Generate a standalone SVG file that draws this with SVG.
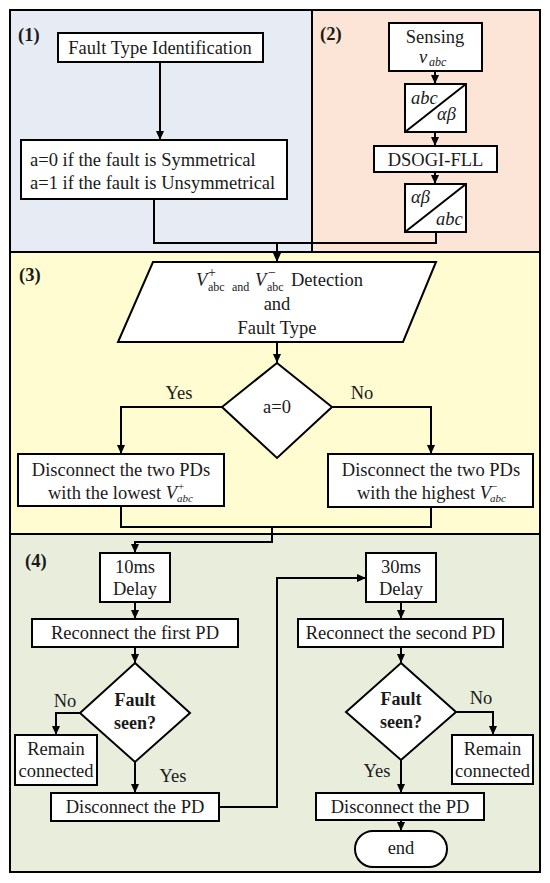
<svg xmlns="http://www.w3.org/2000/svg" width="550" height="883" viewBox="0 0 550 883">
<defs>
<style>
.box{fill:#fff;stroke:#000;stroke-width:2}
.pan{stroke:#000;stroke-width:2}
.ln{fill:none;stroke:#000;stroke-width:2}
.t{font-family:"Liberation Serif","Times New Roman",serif;font-size:18.5px;fill:#1a1a1a}
.c{text-anchor:middle}
.b{font-weight:bold}
.i{font-style:italic}
.s{font-size:12px}
.lbl{font-family:"Liberation Serif","Times New Roman",serif;font-size:18.5px;font-weight:bold;fill:#1a1a1a}
</style>
<marker id="ah" markerUnits="userSpaceOnUse" markerWidth="9" markerHeight="8" refX="9" refY="4" orient="auto">
<path d="M0,0 L9,4 L0,8 z" fill="#000"/>
</marker>
</defs>
<rect width="550" height="883" fill="#fff"/>
<g id="panels">
<rect class="pan" x="10" y="10" width="302" height="242" fill="#e7ecf4"/>
<rect class="pan" x="312" y="10" width="228" height="242" fill="#fce5d6"/>
<rect class="pan" x="10" y="252" width="530" height="282" fill="#fffcd1"/>
<rect class="pan" x="10" y="534" width="530" height="338" fill="#e9eedc"/>
<text class="lbl" x="18" y="41">(1)</text>
<text class="lbl" x="320" y="40">(2)</text>
<text class="lbl" x="19" y="281">(3)</text>
<text class="lbl" x="25" y="567">(4)</text>
</g>
<g id="connectors">
<path class="ln" d="M160,62 V140" marker-end="url(#ah)"/>
<path class="ln" d="M154,199 V243 H436 V232"/>
<path class="ln" d="M277,243 V262" marker-end="url(#ah)"/>
<path class="ln" d="M435,71 V84" marker-end="url(#ah)"/>
<path class="ln" d="M435,132 V146" marker-end="url(#ah)"/>
<path class="ln" d="M435,172 V184" marker-end="url(#ah)"/>
<path class="ln" d="M277,342 V363" marker-end="url(#ah)"/>
<path class="ln" d="M222,407 H121 V454" marker-end="url(#ah)"/>
<path class="ln" d="M332,407 H431 V454" marker-end="url(#ah)"/>
<path class="ln" d="M121,506 V527 H431 V506"/>
<path class="ln" d="M272,527 V542 H135 V553" marker-end="url(#ah)"/>
<path class="ln" d="M135,602 V619" marker-end="url(#ah)"/>
<path class="ln" d="M135,647 V663" marker-end="url(#ah)"/>
<path class="ln" d="M80,713 H56 V735" marker-end="url(#ah)"/>
<path class="ln" d="M135,762 V793" marker-end="url(#ah)"/>
<path class="ln" d="M219,807 H277 V578 H366" marker-end="url(#ah)"/>
<path class="ln" d="M401,602 V619" marker-end="url(#ah)"/>
<path class="ln" d="M401,647 V663" marker-end="url(#ah)"/>
<path class="ln" d="M456,712 H493 V735" marker-end="url(#ah)"/>
<path class="ln" d="M401,760 V793" marker-end="url(#ah)"/>
<path class="ln" d="M401,820 V831" marker-end="url(#ah)"/>
<text class="t c" x="179" y="399">Yes</text>
<text class="t c" x="362" y="399">No</text>
<text class="t c" x="65" y="707">No</text>
<text class="t c" x="173" y="782">Yes</text>
<text class="t c" x="481" y="704">No</text>
<text class="t c" x="377" y="777">Yes</text>
</g>
<g id="fault-type-id">
<rect class="box" x="58" y="33" width="205" height="29"/>
<text class="t c" x="160" y="54">Fault Type Identification</text>
</g>
<g id="a-def">
<rect class="box" x="21" y="140" width="266" height="59"/>
<text class="t" x="30" y="166">a=0 if the fault is Symmetrical</text>
<text class="t" x="30" y="189">a=1 if the fault is Unsymmetrical</text>
</g>
<g id="sensing">
<rect class="box" x="389" y="23" width="93" height="48"/>
<text class="t c" x="435" y="43">Sensing</text>
<text class="t i" x="419" y="63">v</text>
<text class="t i s" x="429" y="66">abc</text>
</g>
<g id="abc-ab">
<rect class="box" x="405" y="84" width="61" height="48"/>
<path class="ln" d="M405,132 L466,84"/>
<text class="t i" x="411" y="104">abc</text>
<text class="t i" x="437" y="120">αβ</text>
</g>
<g id="dsogi">
<rect class="box" x="374" y="146" width="123" height="26"/>
<text class="t c" x="435.5" y="166">DSOGI-FLL</text>
</g>
<g id="ab-abc">
<rect class="box" x="405" y="184" width="61" height="48"/>
<path class="ln" d="M405,232 L466,184"/>
<text class="t i" x="411" y="203">αβ</text>
<text class="t i" x="436" y="225">abc</text>
</g>
<g id="detection">
<path class="box" d="M153,262 H436 L403,342 H118 Z"/>
<text class="t i" x="196" y="286">V</text>
<text class="t" x="208" y="277" style="font-size:14px">+</text>
<text class="t s" x="208" y="291">abc</text>
<text class="t s" x="232" y="291">and</text>
<text class="t i" x="255" y="286">V</text>
<text class="t" x="268" y="277" style="font-size:14px">−</text>
<text class="t s" x="267" y="291">abc</text>
<text class="t" x="291" y="286">Detection</text>
<text class="t c" x="277" y="310">and</text>
<text class="t c" x="277" y="334">Fault Type</text>
</g>
<g id="decision-a0">
<path class="box" d="M277,363 L332,407 L277,458 L222,407 Z"/>
<text class="t c" x="277" y="413">a=0</text>
</g>
<g id="disc-lowest">
<rect class="box" x="18" y="454" width="206" height="52"/>
<text class="t c" x="121" y="476">Disconnect the two PDs</text>
<text class="t" x="48" y="499">with the lowest <tspan class="i">V</tspan></text>
<text class="t" x="178" y="490" style="font-size:11px">+</text>
<text class="t i" x="177" y="502" style="font-size:11px">abc</text>
</g>
<g id="disc-highest">
<rect class="box" x="328" y="454" width="205" height="53"/>
<text class="t c" x="431" y="476">Disconnect the two PDs</text>
<text class="t" x="357" y="499">with the highest <tspan class="i">V</tspan></text>
<text class="t" x="491" y="490" style="font-size:11px">−</text>
<text class="t i" x="490" y="502" style="font-size:11px">abc</text>
</g>
<g id="delay10">
<rect class="box" x="100" y="553" width="70" height="49"/>
<text class="t c" x="135" y="573">10ms</text>
<text class="t c" x="135" y="595">Delay</text>
</g>
<g id="reconnect1">
<rect class="box" x="32" y="619" width="206" height="28"/>
<text class="t c" x="135" y="639">Reconnect the first PD</text>
</g>
<g id="fault1">
<path class="box" d="M135,663 L190,713 L135,762 L80,713 Z"/>
<text class="t c b" x="135" y="706" style="font-size:18px">Fault</text>
<text class="t c b" x="135" y="729" style="font-size:18px">seen?</text>
</g>
<g id="remain1">
<rect class="box" x="15" y="735" width="82" height="50"/>
<text class="t c" x="56" y="755">Remain</text>
<text class="t c" x="56" y="777">connected</text>
</g>
<g id="disc1">
<rect class="box" x="51" y="793" width="168" height="28"/>
<text class="t c" x="135" y="813">Disconnect the PD</text>
</g>
<g id="delay30">
<rect class="box" x="366" y="553" width="70" height="49"/>
<text class="t c" x="401" y="573">30ms</text>
<text class="t c" x="401" y="595">Delay</text>
</g>
<g id="reconnect2">
<rect class="box" x="298" y="619" width="205" height="28"/>
<text class="t c" x="400.5" y="639">Reconnect the second PD</text>
</g>
<g id="fault2">
<path class="box" d="M401,663 L456,712 L401,760 L346,712 Z"/>
<text class="t c b" x="401" y="705" style="font-size:18px">Fault</text>
<text class="t c b" x="401" y="728" style="font-size:18px">seen?</text>
</g>
<g id="remain2">
<rect class="box" x="452" y="735" width="81" height="49"/>
<text class="t c" x="492.5" y="755">Remain</text>
<text class="t c" x="492.5" y="777">connected</text>
</g>
<g id="disc2">
<rect class="box" x="316" y="793" width="168" height="27"/>
<text class="t c" x="400" y="813">Disconnect the PD</text>
</g>
<g id="end">
<rect class="box" x="355" y="831" width="92" height="36" rx="18" ry="18"/>
<text class="t c" x="401" y="854">end</text>
</g>
</svg>
